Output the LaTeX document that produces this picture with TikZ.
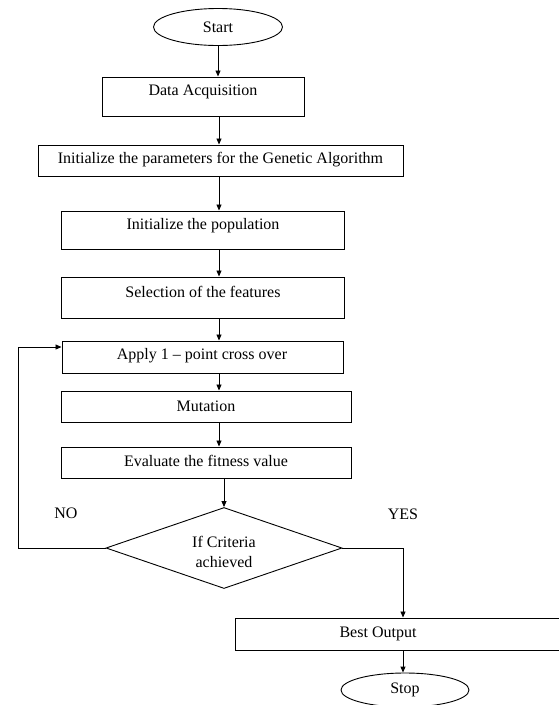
\documentclass[tikz,border=0pt]{standalone}
\usepackage{fontspec}
\setmainfont{Liberation Serif}
\usetikzlibrary{shapes.geometric,arrows.meta}
\begin{document}
\begin{tikzpicture}[x=1pt,y=-1pt,
  every node/.style={font=\fontsize{16}{17}\selectfont},
  stepbox/.style={draw, line width=1pt, rectangle, inner sep=0pt},
  term/.style={draw, line width=0.9pt, ellipse, inner sep=0pt},
  lbl/.style={inner sep=0pt, align=center},
  arr/.style={draw, line width=0.9pt, -{Triangle[length=6pt,width=5pt]}},
  ln/.style={draw, line width=0.9pt}]
\useasboundingbox (0,0) rectangle (558,705);
% terminals
\node[term, minimum width=129, minimum height=37] (start) at (218,27) {Start};
% boxes
\node[stepbox, minimum width=202, minimum height=39] (da) at (203,96.5) {};
\node[lbl] (tda) at (203,92) {Data Acquisition};
\node[stepbox, minimum width=365, minimum height=31] (ip) at (220.5,160.5) {};
\node[lbl] (tip) at (220.5,160) {Initialize the parameters for the Genetic Algorithm};
\node[stepbox, minimum width=283, minimum height=38] (pop) at (202.5,230) {};
\node[lbl] (tpop) at (203,226) {Initialize the population};
\node[stepbox, minimum width=283, minimum height=41] (sel) at (202.5,297.5) {};
\node[lbl] (tsel) at (203,292) {Selection of the features};
\node[stepbox, minimum width=281, minimum height=32] (apl) at (202.5,357) {};
\node[lbl] (tapl) at (202,356) {Apply 1 -- point cross over};
\node[stepbox, minimum width=290, minimum height=31] (mut) at (206,406.5) {};
\node[lbl] (tmut) at (206,406) {Mutation};
\node[stepbox, minimum width=290, minimum height=31] (evl) at (206,462.5) {};
\node[lbl] (tevl) at (206,461) {Evaluate the fitness value};
% decision
\node[draw, line width=0.9pt, diamond, inner sep=0pt, shape aspect=2.9,
      minimum width=236, minimum height=81] (dec) at (224,548) {};
\node[lbl] (tdec) at (224,552) {If Criteria\\[3pt]achieved};
\node[lbl] (no) at (66,513) {NO};
\node[lbl] (yes) at (403,514) {YES};
% output
\node[stepbox, minimum width=330, minimum height=32] (best) at (400,634) {};
\node[lbl] (tbest) at (378,634) {Best Output};
\node[term, minimum width=128, minimum height=34] (stop) at (405,690) {Stop};
\coordinate (cx) at (219,0);
\coordinate (loop) at (18,0);
% arrows
\draw[arr] (start.south) -- (start.south |- da.north);
\draw[arr] (da.south -| cx) -- (ip.north -| cx);
\draw[arr] (ip.south -| cx) -- (pop.north -| cx);
\draw[arr] (pop.south -| cx) -- (sel.north -| cx);
\draw[arr] (sel.south -| cx) -- (apl.north -| cx);
\draw[arr] (apl.south -| cx) -- (mut.north -| cx);
\draw[arr] (mut.south -| cx) -- (evl.north -| cx);
\draw[arr] (evl.south -| dec.north) -- (dec.north);
\draw[arr] (dec.west) -- (dec.west -| loop) -- ([yshift=10pt]apl.west -| loop) -- ([yshift=10pt]apl.west);
\draw[arr] (dec.east) -- (dec.east -| yes) -- (best.north -| yes);
\draw[arr] (best.south -| yes) -- (stop.north -| yes);
\end{tikzpicture}
\end{document}
